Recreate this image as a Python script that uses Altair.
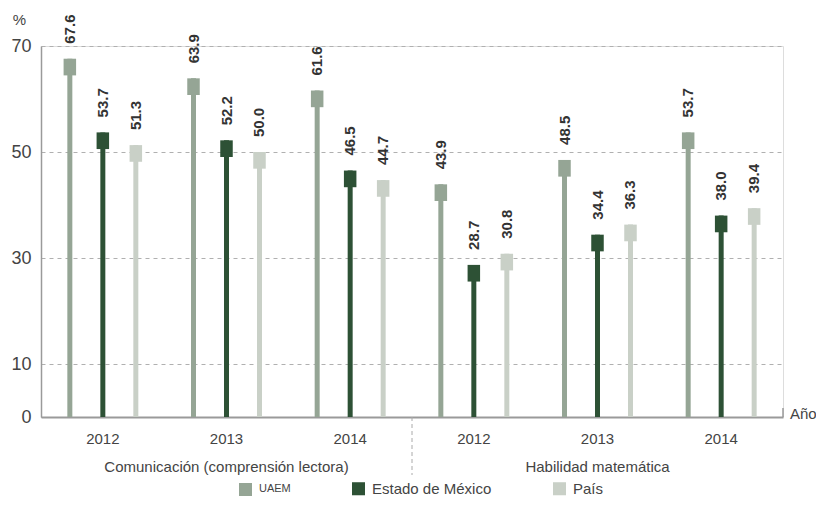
import altair as alt
import pandas as pd

areas = ["Comunicación (comprensión lectora)", "Habilidad matemática"]
years = ["2012", "2013", "2014"]
series = ["UAEM", "Estado de México", "País"]
colors = ["#95a595", "#2d5135", "#c9d0c7"]
uaem = [67.6, 63.9, 61.6, 43.9, 48.5, 53.7]
edomex = [53.7, 52.2, 46.5, 28.7, 34.4, 38.0]
pais = [51.3, 50.0, 44.7, 30.8, 36.3, 39.4]
y_ticks = [0, 10, 30, 50, 70]

keys = [f"{a}|{y}" for a in areas for y in years]
rows = []
for s, vals in zip(series, [uaem, edomex, pais]):
    for k, v in zip(keys, vals):
        rows.append({"key": k, "serie": s, "valor": v})
df = pd.DataFrame(rows)

W, H = 742, 371
FONT = "Liberation Sans"
TXT = "#444444"

x_enc = alt.X(
    "key:N", sort=keys,
    scale=alt.Scale(paddingInner=0, paddingOuter=0),
    axis=alt.Axis(title=None, labelExpr="split(datum.label, '|')[1]", ticks=False,
                  domainColor="#9a9a9a", domainWidth=2, labelPadding=14,
                  labelFontSize=15, labelColor=TXT, labelAngle=0, labelFont=FONT),
)
xo_enc = alt.XOffset("serie:N", sort=series,
                     scale=alt.Scale(paddingOuter=0.374, paddingInner=0))
y_enc = alt.Y(
    "valor:Q",
    scale=alt.Scale(domain=[0, 70], nice=False, zero=True),
    axis=alt.Axis(values=y_ticks, title="%", titleAngle=0, titleX=-22, titleY=-22,
                  titleAlign="center", titleBaseline="alphabetic", titleFontSize=15,
                  titleFontWeight="normal", titleColor=TXT, titleFont=FONT,
                  ticks=False, labelPadding=10, labelFontSize=18, labelColor=TXT,
                  labelFont=FONT, domainColor="#9a9a9a", domainWidth=1.5,
                  grid=True, gridDash=[4, 4], gridColor="#b0b0b0", gridWidth=1),
)
color_enc = alt.Color(
    "serie:N", sort=series,
    scale=alt.Scale(domain=series, range=colors),
    legend=alt.Legend(title=None, orient="none", legendX=197, legendY=435,
                      direction="horizontal", symbolType="square", symbolSize=170,
                      symbolStrokeWidth=0, symbolOpacity=1, labelFont=FONT,
                      labelFontSize={"expr": "datum.label == 'UAEM' ? 11 : 15"},
                      labelColor=TXT, labelOffset=6, columnPadding=60, padding=0),
)

base = alt.Chart(df).encode(x=x_enc, xOffset=xo_enc, y=y_enc, color=color_enc)

stems = base.mark_bar(width=5)
heads = base.mark_point(shape="M-0.75,0L0.75,0L0.75,2L-0.75,2Z", size=278,
                        filled=True, opacity=1, strokeWidth=0)
labels = alt.Chart(df).mark_text(
    angle=270, align="left", baseline="middle", dx=15, fontSize=15,
    fontWeight="bold", color="#333333", font=FONT,
).encode(x=alt.X("key:N", sort=keys), xOffset=alt.XOffset("serie:N", sort=series),
         y="valor:Q", text=alt.Text("valor:Q", format=".1f"))

grp_df = pd.DataFrame({"key": [f"{a}|2013" for a in areas], "label": areas})
groups = alt.Chart(grp_df).mark_text(
    fontSize=15, color=TXT, baseline="middle", font=FONT
).encode(x=alt.X("key:N", sort=keys), y=alt.value(H + 50), text="label:N")

sep_df = pd.DataFrame({"key": [keys[3]]})
sep = alt.Chart(sep_df).mark_rule(strokeDash=[4, 3], color="#aaaaaa", strokeWidth=1).encode(
    x=alt.X("key:N", sort=keys, bandPosition=0), y=alt.value(H), y2=alt.value(H + 58))

endtick = alt.Chart(sep_df).mark_rule(color="#9a9a9a", strokeWidth=1.5).encode(
    x=alt.value(W), y=alt.value(H - 9), y2=alt.value(H))
ano = alt.Chart(sep_df).mark_text(
    align="left", baseline="middle", fontSize=15, color=TXT, font=FONT
).encode(x=alt.value(W + 7), y=alt.value(H - 3), text=alt.value("Año"))

chart = alt.layer(stems, heads, labels, groups, sep, endtick, ano).properties(
    width=W, height=H,
    padding={"left": 33, "top": 38, "right": 33, "bottom": 81},
    autosize=alt.AutoSizeParams(type="none"),
).configure_view(stroke=None).configure(font=FONT)

chart.save("out.html", embed_options={"renderer": "svg", "actions": False})
